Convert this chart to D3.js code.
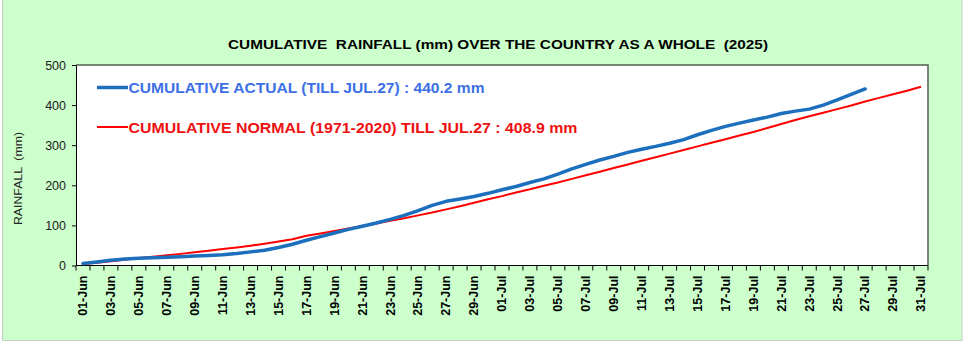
<!DOCTYPE html>
<html><head><meta charset="utf-8">
<script src="https://cdn.jsdelivr.net/npm/d3@7"></script>
<style>body{margin:0;background:#fff}svg{display:block}</style>
</head><body><svg id="c" width="967" height="342"></svg>
<script>
const categories = [
 "01-Jun","02-Jun","03-Jun","04-Jun","05-Jun","06-Jun","07-Jun","08-Jun","09-Jun","10-Jun",
 "11-Jun","12-Jun","13-Jun","14-Jun","15-Jun","16-Jun","17-Jun","18-Jun","19-Jun","20-Jun",
 "21-Jun","22-Jun","23-Jun","24-Jun","25-Jun","26-Jun","27-Jun","28-Jun","29-Jun","30-Jun",
 "01-Jul","02-Jul","03-Jul","04-Jul","05-Jul","06-Jul","07-Jul","08-Jul","09-Jul","10-Jul",
 "11-Jul","12-Jul","13-Jul","14-Jul","15-Jul","16-Jul","17-Jul","18-Jul","19-Jul","20-Jul",
 "21-Jul","22-Jul","23-Jul","24-Jul","25-Jul","26-Jul","27-Jul","28-Jul","29-Jul","30-Jul","31-Jul"];
const actual = [
 5,9,13,16,18,19.5,20.5,22,23.5,25,
 27,30,34,38,45,53,63,72,81,90,
 98,106,115,125,137,150,160,166,172,180,
 189,197,207,216,228,241,252,263,272,282,
 290,297,305,314,326,337,347,355,363,370,
 379,385,390,400,413,427,440.2];
const normal = [
 3.5,7,10.5,14.5,18.5,22,25.5,29,33,37,
 41,45,49.5,54.5,60,65.5,74,80,86,92,
 98.5,105,111.5,118,125,132,140,148,156.5,165.3,
 173,182,190,199,207,216,225,234,243,252,
 261,270,279,288,297,306,315,324,333,343,
 353,363,372,381,390,399,408.9,418,427,436,445.8];
const yTicks = [0,100,200,300,400,500];
const titleText = "CUMULATIVE  RAINFALL (mm) OVER THE COUNTRY AS A WHOLE  (2025)";
const yTitle = "RAINFALL  (mm)";
const legendLabels = ["CUMULATIVE ACTUAL (TILL JUL.27) : 440.2 mm",
                      "CUMULATIVE NORMAL (1971-2020) TILL JUL.27 : 408.9 mm"];

const svg = d3.select("#c");
const L = 76, R = 928, T = 65, B = 265.5;
const x = d3.scaleBand().domain(categories).range([L, R]);
const cx = d => x(d) + x.bandwidth()/2;
const y = d3.scaleLinear().domain([0, 500]).range([B, T]);

// background
svg.append("rect").attr("x",2.5).attr("y",-1).attr("width",959.5).attr("height",341.5)
  .attr("fill","#ccffcc").attr("stroke","#c4cfc4").attr("stroke-width",1);
svg.append("rect").attr("x",L).attr("y",T).attr("width",R-L).attr("height",B-T)
  .attr("fill","#ffffff");
// plot border top/right
svg.append("path").attr("d",`M${L},${T}H${R}V${B}`).attr("fill","none")
  .attr("stroke","#4f5f4f").attr("stroke-width",1.5);

// title
svg.append("text").attr("x",498).attr("y",49).attr("text-anchor","middle")
  .attr("font-family","Liberation Sans, Arial, sans-serif").attr("font-weight","bold")
  .attr("font-size",13.5).attr("fill","#000").attr("textLength",540)
  .attr("lengthAdjust","spacingAndGlyphs").style("white-space","pre").text(titleText);

// y axis
const yAxis = svg.append("g").attr("transform",`translate(${L},0)`)
  .call(d3.axisLeft(y).tickValues(yTicks).tickSize(4).tickPadding(6).tickSizeOuter(0));
yAxis.select(".domain").attr("stroke","#000");
yAxis.selectAll("line").attr("stroke","#000");
yAxis.selectAll("text").attr("font-family","Liberation Sans, Arial, sans-serif")
  .attr("font-size",12.5).attr("fill","#222");
svg.append("text").attr("transform",`translate(22,178.5) rotate(-90)`).attr("text-anchor","middle")
  .attr("font-family","Liberation Sans, Arial, sans-serif").attr("font-size",11.5)
  .attr("fill","#222").attr("textLength",93).attr("lengthAdjust","spacingAndGlyphs")
  .style("white-space","pre").text(yTitle);

// x axis: boundary ticks
const bounds = categories.map(c => x(c)).concat([R]);
svg.append("line").attr("x1",L).attr("x2",R).attr("y1",B).attr("y2",B).attr("stroke","#000");
svg.append("g").selectAll("line").data(bounds).join("line")
  .attr("x1",d=>d).attr("x2",d=>d).attr("y1",B).attr("y2",B+5).attr("stroke","#000");
svg.append("g").selectAll("text").data(categories.filter((c,i)=>i%2===0)).join("text")
  .attr("transform",d=>`translate(${cx(d)+4.3},${B+10}) rotate(-90)`)
  .attr("text-anchor","end").attr("font-family","Liberation Sans, Arial, sans-serif")
  .attr("font-weight","bold").attr("font-size",12.5).attr("fill","#000").text(d=>d);

// lines
const line = d3.line().x((d,i)=>cx(categories[i])).y(d=>y(d));
svg.append("path").datum(normal).attr("d",line).attr("fill","none")
  .attr("stroke","#ff0000").attr("stroke-width",2).attr("stroke-linejoin","round");
svg.append("path").datum(actual).attr("d",line).attr("fill","none")
  .attr("stroke","#1c6fbd").attr("stroke-width",3.5).attr("stroke-linejoin","round")
  .attr("stroke-linecap","round");

// legend
const leg = [{c:"#1c6fbd",t:"#3d6fe6",w:3.5,yy:87.5,len:356},{c:"#ff0000",t:"#ee1111",w:2,yy:127,len:449}];
leg.forEach((d,i)=>{
  svg.append("line").attr("x1",97).attr("x2",128).attr("y1",d.yy).attr("y2",d.yy)
    .attr("stroke",d.c).attr("stroke-width",d.w);
  svg.append("text").attr("x",128.5).attr("y",d.yy+5.5)
    .attr("font-family","Liberation Sans, Arial, sans-serif").attr("font-weight","bold")
    .attr("font-size",15).attr("fill",d.t).attr("textLength",d.len)
    .attr("lengthAdjust","spacingAndGlyphs").text(legendLabels[i]);
});
</script></body></html>
